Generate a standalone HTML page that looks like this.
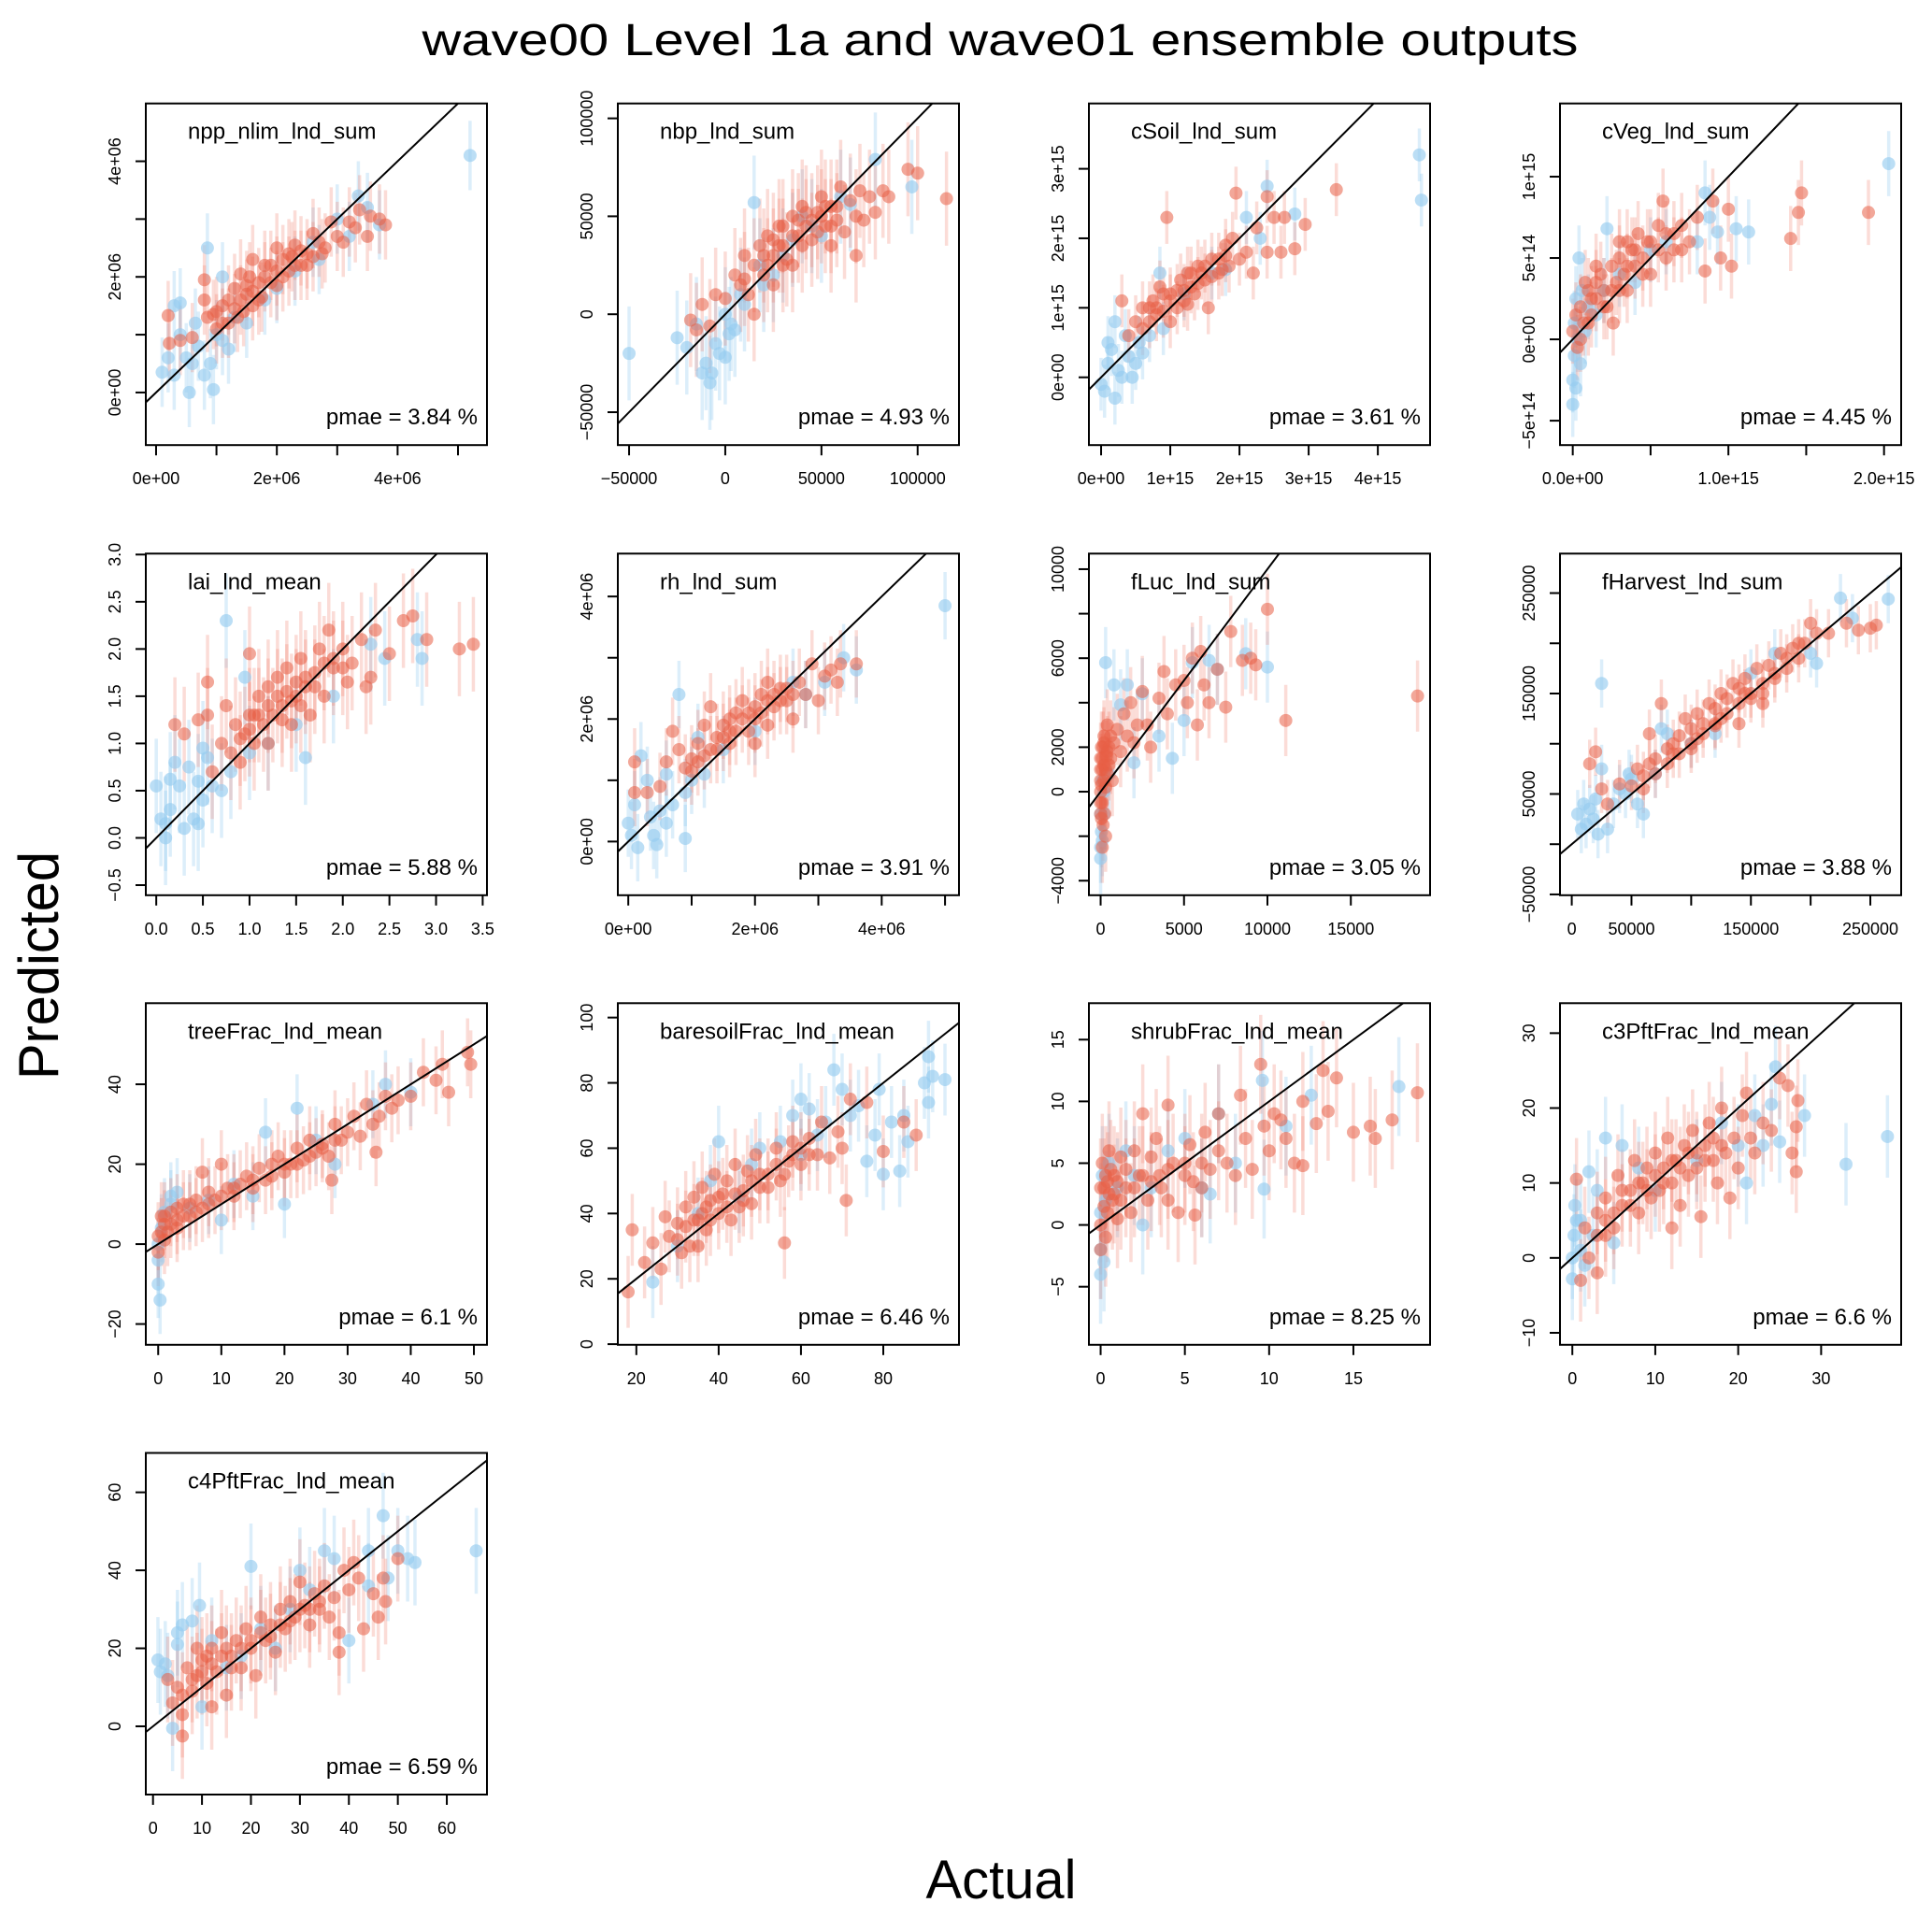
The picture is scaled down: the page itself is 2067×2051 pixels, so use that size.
<!DOCTYPE html>
<html><head><meta charset="utf-8"><title>wave00 Level 1a and wave01 ensemble outputs</title>
<style>html,body{margin:0;padding:0;background:#fff}svg{display:block}text{font-family:"Liberation Sans",Arial,sans-serif;fill:#000}</style>
</head><body>
<svg id="chart" xmlns="http://www.w3.org/2000/svg" width="2067" height="2051" viewBox="0 0 2067 2051">
<rect x="0" y="0" width="2067" height="2051" fill="#fff"/>
<text x="1070" y="59" font-size="48" text-anchor="middle" textLength="1237" lengthAdjust="spacingAndGlyphs">wave00 Level 1a and wave01 ensemble outputs</text>
<text transform="translate(62,1033) rotate(-90)" font-size="60" text-anchor="middle" textLength="244" lengthAdjust="spacingAndGlyphs">Predicted</text>
<text x="1071" y="2031" font-size="58" text-anchor="middle" textLength="161" lengthAdjust="spacingAndGlyphs">Actual</text>
</svg>
<script>
// ---- data (actual, predicted) per panel; units noted in tick labels ----
const nppRed = [[0.2,1.33],[0.22,0.85],[0.4,0.9],[0.6,0.95],[0.8,1.6],[0.8,1.95],[0.85,1.3],[0.95,1.35],[1.1,1.5],[1.2,1.2],[1.3,1.8],[1.4,2.05],[1.5,1.7],[1.6,2.3],[1.7,1.9],[1.8,2.0],[1.9,2.2],[2.0,1.85],[2.1,2.3],[2.2,2.1],[2.3,2.55],[2.4,2.2],[2.5,2.4],[2.6,2.35],[2.7,2.6],[2.8,2.5],[2.9,2.95],[3.0,2.7],[3.1,2.6],[3.3,2.85],[3.37,3.16],[3.5,2.7],[3.55,3.05],[3.7,3.0],[3.8,2.9],[1.6,1.5],[2.0,2.5],[1.2,1.6],[2.6,2.75],[3.2,2.95],[1.45,1.4],[1.75,1.65],[2.25,2.35],[1.0,1.1]];
const nppRedCore = [[1.0,1.4],[1.1,1.2],[1.3,1.45],[1.4,1.6],[1.5,1.85],[1.6,1.75],[1.7,1.6],[1.8,2.2],[1.9,1.9],[2.0,2.1],[2.1,2.0],[2.2,2.4],[2.3,2.2],[2.4,2.45],[2.5,2.2],[1.35,1.3],[1.55,2.0],[2.75,2.4]];
const nppBlue = [[0.1,0.35],[0.2,0.6],[0.3,1.5],[0.4,1.55],[0.3,0.3],[0.5,0.6],[0.55,0.0],[0.6,0.5],[0.7,0.8],[0.8,0.3],[0.85,2.5],[0.9,0.5],[1.0,1.0],[0.95,0.05],[1.1,0.9],[1.1,2.0],[1.2,0.75],[1.3,1.3],[1.5,1.2],[1.8,1.6],[2.0,1.8],[2.3,2.1],[2.6,2.6],[2.7,2.3],[3.2,2.7],[3.35,3.4],[3.5,3.2],[3.7,2.9],[3.0,3.0],[5.2,4.1],[0.4,1.0],[0.65,1.2]];
const nbpRed = [[-18,-3],[-15,-8],[-12,5],[-8,-6],[-5,10],[0,8],[5,20],[8,15],[10,30],[15,25],[18,35],[20,20],[22,40],[25,30],[28,45],[30,35],[32,28],[35,50],[38,40],[40,55],[42,45],[45,38],[48,52],[50,60],[52,45],[55,55],[58,48],[60,65],[62,42],[65,58],[68,50],[70,63],[72,48],[75,60],[78,52],[82,63],[85,60],[95,74],[100,72],[115,59],[68,30],[55,35],[15,0],[35,25],[25,15]];
const nbpRedCore = [[20,30],[25,38],[30,45],[30,25],[35,40],[38,48],[40,35],[42,52],[45,48],[48,42],[50,50],[52,55],[55,45],[58,55],[22,25],[28,35],[10,18],[12,10]];
const nbpBlue = [[-50,-20],[-25,-12],[-20,-17],[-15,-5],[-12,-30],[-10,-25],[-8,-35],[-5,-15],[-3,-20],[0,-22],[0,0],[3,-5],[5,-8],[8,10],[10,5],[15,57],[18,25],[20,15],[25,20],[30,30],[35,38],[40,50],[45,45],[50,40],[60,60],[65,56],[78,79],[97,65],[-7,-30],[2,-10]];
const csoilRed = [[0.3,1.1],[0.4,0.6],[0.5,0.8],[0.6,0.7],[0.7,1.0],[0.8,0.9],[0.9,1.2],[0.95,2.3],[1.0,1.1],[1.1,1.0],[1.15,1.4],[1.2,1.25],[1.3,1.5],[1.35,1.2],[1.4,1.6],[1.5,1.4],[1.55,1.0],[1.6,1.7],[1.7,1.5],[1.8,1.9],[1.85,1.6],[1.9,2.0],[1.95,2.65],[2.0,1.7],[2.1,1.8],[2.2,1.5],[2.25,2.15],[2.4,2.6],[2.4,1.8],[2.5,2.3],[2.6,1.8],[2.65,2.3],[2.8,1.85],[2.95,2.2],[3.4,2.7],[1.0,0.8],[0.6,1.0],[1.25,1.05],[0.85,1.3]];
const csoilRedCore = [[0.7,0.8],[0.8,1.0],[0.9,0.95],[1.0,1.2],[1.1,1.25],[1.2,1.1],[1.3,1.3],[1.4,1.35],[1.45,1.5],[1.5,1.6],[1.6,1.45],[1.7,1.7],[1.75,1.55],[1.8,1.75],[0.75,1.1],[1.25,1.5]];
const csoilBlue = [[0.0,-0.1],[0.05,-0.2],[0.1,0.2],[0.15,0.4],[0.1,0.5],[0.2,-0.3],[0.25,0.1],[0.3,0.0],[0.35,0.6],[0.4,0.3],[0.5,0.2],[0.55,0.5],[0.6,0.35],[0.7,0.6],[0.9,0.7],[0.85,1.5],[1.2,1.2],[1.6,1.5],[1.8,1.55],[2.1,2.3],[2.3,2.0],[2.4,2.75],[2.8,2.35],[4.6,3.2],[4.63,2.55],[0.2,0.8],[0.45,0.0]];
const cvegRed = [[0.0,0.05],[0.02,0.15],[0.03,-0.05],[0.05,0.2],[0.07,0.1],[0.1,0.3],[0.12,0.15],[0.15,0.25],[0.18,0.4],[0.2,0.3],[0.22,0.2],[0.25,0.45],[0.28,0.35],[0.3,0.5],[0.33,0.4],[0.35,0.3],[0.38,0.55],[0.4,0.45],[0.42,0.65],[0.45,0.5],[0.48,0.6],[0.5,0.4],[0.55,0.7],[0.58,0.85],[0.6,0.5],[0.65,0.65],[0.7,0.7],[0.75,0.6],[0.8,0.75],[0.85,0.42],[0.9,0.85],[0.95,0.5],[1.0,0.8],[1.02,0.45],[1.4,0.62],[1.45,0.78],[1.47,0.9],[1.9,0.78],[0.35,0.6],[0.15,0.45],[0.08,0.35],[0.26,0.1]];
const cvegRedCore = [[0.1,0.1],[0.15,0.35],[0.2,0.2],[0.25,0.3],[0.3,0.3],[0.3,0.6],[0.35,0.45],[0.4,0.55],[0.45,0.4],[0.5,0.6],[0.55,0.55],[0.6,0.65],[0.65,0.55],[0.7,0.55],[0.05,0.0],[0.12,0.25]];
const cvegBlue = [[0.0,-0.25],[0.0,-0.4],[0.01,-0.1],[0.01,0.1],[0.02,-0.3],[0.02,0.25],[0.03,0.0],[0.04,0.5],[0.05,-0.15],[0.06,0.3],[0.08,0.05],[0.1,0.2],[0.15,0.15],[0.2,0.3],[0.3,0.4],[0.4,0.35],[0.6,0.6],[0.8,0.6],[0.85,0.9],[0.88,0.75],[0.93,0.66],[1.05,0.68],[1.13,0.66],[2.03,1.08],[0.22,0.68],[0.5,0.55]];
const laiRed = [[0.2,1.2],[0.3,1.1],[0.45,1.25],[0.55,1.3],[0.6,0.7],[0.7,1.0],[0.75,1.4],[0.8,0.9],[0.85,1.2],[0.9,0.8],[0.95,1.1],[1.0,1.3],[1.0,1.95],[1.05,1.0],[1.1,1.5],[1.15,1.2],[1.2,1.6],[1.25,1.3],[1.3,1.7],[1.35,1.4],[1.4,1.8],[1.45,1.2],[1.5,1.5],[1.55,1.9],[1.6,1.6],[1.65,1.3],[1.7,1.75],[1.75,2.0],[1.8,1.5],[1.85,2.2],[1.9,1.8],[2.0,2.0],[2.05,1.65],[2.1,1.85],[2.2,2.1],[2.3,1.7],[2.35,2.2],[2.5,1.95],[2.65,2.3],[2.75,2.35],[2.9,2.1],[3.25,2.0],[3.4,2.05],[0.55,1.65],[2.25,1.6]];
const laiRedCore = [[0.9,1.05],[1.0,1.15],[1.1,1.3],[1.2,1.4],[1.3,1.5],[1.4,1.55],[1.5,1.65],[1.6,1.7],[1.7,1.6],[1.8,1.85],[1.9,1.9],[1.2,1.0],[1.35,1.25],[1.45,1.45],[1.55,1.4],[1.05,1.3],[2.0,1.8]];
const laiBlue = [[0.0,0.55],[0.05,0.2],[0.1,0.15],[0.15,0.3],[0.15,0.62],[0.2,0.8],[0.25,0.55],[0.3,0.1],[0.35,0.75],[0.4,0.2],[0.45,0.15],[0.45,0.6],[0.5,0.95],[0.5,0.4],[0.55,0.85],[0.6,0.55],[0.7,0.5],[0.75,2.3],[0.8,0.7],[0.95,1.7],[1.0,0.9],[1.2,1.0],[1.5,1.2],[1.6,0.85],[1.9,1.5],[2.3,2.05],[2.45,1.9],[2.8,2.1],[2.85,1.9],[0.1,0.0]];
const rhRed = [[0.1,0.8],[0.1,1.3],[0.3,0.8],[0.5,0.9],[0.6,1.3],[0.7,1.8],[0.8,1.5],[0.9,1.2],[1.0,1.35],[1.1,1.6],[1.2,1.4],[1.3,2.2],[1.4,1.7],[1.5,1.9],[1.6,1.6],[1.7,2.1],[1.8,2.3],[1.9,1.8],[2.0,2.0],[2.1,2.4],[2.2,1.9],[2.3,2.2],[2.4,2.5],[2.5,2.3],[2.6,2.0],[2.7,2.6],[2.8,2.4],[2.9,2.9],[3.0,2.3],[3.1,2.7],[3.2,2.8],[3.3,2.6],[3.35,2.9],[3.6,2.9],[1.2,1.9],[2.2,2.6],[1.6,2.0],[2.0,1.6]];
const rhRedCore = [[1.3,1.5],[1.4,1.5],[1.5,1.7],[1.6,1.8],[1.7,1.8],[1.8,2.0],[1.9,2.1],[2.0,2.2],[2.1,2.1],[2.2,2.3],[2.3,2.4],[2.4,2.3],[2.5,2.5],[2.6,2.4],[1.1,1.3],[1.0,1.15]];
const rhBlue = [[0.0,0.3],[0.05,0.1],[0.1,0.6],[0.15,-0.1],[0.2,1.4],[0.3,1.0],[0.35,0.4],[0.4,0.1],[0.45,-0.05],[0.5,0.5],[0.6,0.3],[0.7,0.6],[0.8,2.4],[0.9,0.8],[0.9,0.05],[1.0,1.0],[1.1,1.7],[1.2,1.1],[1.5,1.5],[2.0,1.8],[2.6,2.6],[2.8,2.4],[3.1,2.6],[3.4,3.0],[3.6,2.8],[5.0,3.85],[0.6,1.1]];
const flucRed = [[0,0],[0,1],[0,-1],[0.05,2],[0.1,-0.5],[0.1,1.5],[0.2,0.5],[0.2,2.5],[0.3,1],[0.4,3],[0.5,2],[0.6,1.5],[0.8,2.2],[1.0,2.8],[1.2,1.8],[1.4,3.5],[1.6,2.5],[1.8,4.0],[2.0,2.2],[2.2,3.0],[2.5,4.5],[2.8,3.0],[3.0,2.0],[3.5,4.2],[3.8,5.4],[4.0,3.5],[4.5,4.8],[5.0,5.0],[5.2,4.0],[5.5,6.0],[5.8,3.0],[6.0,6.3],[6.2,4.8],[6.5,4.0],[7.0,5.5],[7.5,3.8],[7.8,7.2],[8.5,5.9],[9.0,6.0],[9.3,5.7],[10.0,8.2],[11.1,3.2],[19.0,4.3],[0.3,-2],[0.15,-1.5],[0.7,0.5],[0.4,1.8]];
const flucRedCore = [[0,0.5],[0,1.5],[0,-0.5],[0.05,0.3],[0.1,1],[0.15,2],[0.2,1.2],[0.25,-1],[0.3,0.2],[0.35,1.6],[0.4,0.8],[0.5,1.2],[0.6,2.5],[0.1,-2.5],[0.05,-1.2],[0.2,2.2]];
const flucBlue = [[0,-2.5],[0,-3],[0.05,-1.8],[0.1,-2.2],[0.2,-1],[0.2,0],[0.3,5.8],[0.5,0.8],[0.8,4.8],[1.2,3.9],[1.6,4.8],[2.0,1.3],[2.5,4.4],[3.5,2.5],[4.3,1.5],[5.0,3.2],[5.5,5.8],[6.5,5.9],[7.0,5.5],[8.7,6.2],[10.0,5.6],[0.0,-1],[0.1,0.5]];
const fharvRed = [[15,80],[20,92],[25,55],[30,40],[40,60],[50,58],[55,75],[60,68],[65,110],[70,85],[75,140],[80,95],[85,100],[90,108],[95,125],[100,115],[105,130],[110,120],[115,140],[120,135],[125,150],[130,145],[135,160],[140,155],[145,165],[150,150],[155,175],[160,160],[165,178],[170,170],[175,190],[180,185],[185,195],[190,200],[195,200],[200,220],[205,210],[215,210],[230,220],[240,213],[250,215],[255,218],[140,120],[100,95],[120,118],[160,140]];
const fharvRedCore = [[60,55],[70,70],[80,80],[90,90],[100,100],[110,110],[120,120],[130,130],[140,140],[150,145],[160,150],[170,165],[180,175],[190,185],[65,80],[85,90],[105,105],[125,125],[145,150]];
const fharvBlue = [[5,30],[8,15],[10,40],[12,20],[15,35],[18,25],[20,45],[22,10],[25,75],[25,160],[30,15],[35,40],[40,55],[45,50],[50,65],[55,40],[60,30],[70,70],[75,115],[80,110],[100,100],[120,110],[150,170],[170,190],[200,190],[205,180],[225,245],[235,225],[265,244],[48,70]];
const treeRed = [[0,2],[0,-2],[0.5,7],[1,5],[1.5,3],[2,8],[3,6],[4,10],[5,7],[6,11],[7,9],[8,13],[9,11],[10,20],[11,14],[12,12],[13,15],[14,17],[15,14],[16,19],[17,16],[18,20],[19,22],[20,18],[21,20],[22,24],[23,21],[24,26],[25,23],[26,25],[27,22],[28,30],[29,26],[30,28],[31,32],[32,27],[33,35],[34,30],[35,32],[36,37],[37,34],[38,36],[40,37],[42,43],[44,41],[46,38],[49,48],[49.5,45],[27.5,16],[34.5,23],[45,45],[7,18]];
const treeRedCore = [[0.5,3],[1,7],[2,5],[3,9],[4,7],[5,10],[6,8],[8,10],[10,12],[12,14],[15,16],[18,17],[20,20],[22,20],[24,22],[26,24],[28,26],[1,1],[3,4]];
const treeBlue = [[0,-10],[0,-4],[0,0],[0.3,-14],[0.5,4],[1,8],[2,10],[3,13],[5,9],[8,11],[10,6],[12,15],[15,12],[17,28],[20,10],[22,34],[25,26],[28,20],[34,35],[36,40],[40,38],[2,12]];
const bareRed = [[18,16],[19,35],[22,25],[24,31],[26,23],[27,39],[28,33],[30,37],[31,28],[32,42],[33,30],[34,45],[35,38],[36,48],[37,35],[38,44],[39,52],[40,40],[41,46],[42,50],[43,38],[44,55],[45,42],[46,47],[47,53],[48,43],[49,58],[50,48],[52,52],[54,60],[55,50],[56,31],[57,56],[58,62],[60,55],[62,63],[64,58],[65,68],[67,57],[69,65],[70,60],[71,44],[72,75],[80,59],[85,68],[88,64],[76,74],[30,32],[35,30]];
const bareRedCore = [[34,38],[36,40],[38,38],[40,45],[42,42],[44,46],[46,44],[48,50],[50,52],[52,48],[54,55],[56,52],[58,58],[60,60],[62,58],[32,36],[37,42]];
const bareBlue = [[24,19],[30,30],[35,40],[38,50],[40,62],[45,45],[48,55],[50,60],[55,62],[58,70],[60,75],[62,72],[64,64],[66,68],[68,84],[70,78],[72,70],[74,73],[76,56],[78,64],[79,78],[80,52],[82,68],[84,53],[85,70],[86,62],[90,80],[91,74],[92,82],[95,81],[91,88],[60,58]];
const shrubRed = [[0,0],[0,3],[0,-2],[0.1,5],[0.2,1.5],[0.3,-1],[0.4,3.5],[0.5,6],[0.7,2],[0.8,4],[1,0.5],[1.2,5.5],[1.5,3],[1.8,1],[2,6],[2.3,4],[2.5,9],[2.8,2],[3,5.5],[3.3,7],[3.6,3],[4,9.7],[4.3,5],[4.6,1],[5,4],[5.3,6.5],[5.6,0.8],[6,3],[6.2,7.5],[6.5,4.5],[7,9],[7.5,5],[8,4],[8.3,10.5],[8.6,7],[9,4.5],[9.5,13],[9.7,8],[10,6],[10.3,9],[10.7,8.5],[11,7],[11.5,5],[12,10],[12,4.8],[12.8,8.2],[13.2,12.5],[13.5,9.2],[14,11.9],[15,7.5],[16,8],[16.3,7],[17.3,8.5],[18.8,10.7],[4,2],[7,6]];
const shrubRedCore = [[0.2,3],[0.3,4],[0.4,1],[0.5,2.5],[0.6,4.5],[0.8,2.5],[1,3.5],[1.2,2],[1.5,4.5],[2,3],[2.5,4],[3,3.5],[3.5,4],[4,4.5],[5,5],[5.5,3.5],[6,5]];
const shrubBlue = [[0,-2],[0,-4],[0,1],[0.1,4],[0.2,-3],[0.3,2],[0.5,5],[1,3],[1.5,6],[2,4],[3,3],[4,6],[5,7],[6,3],[6.5,2.5],[7,9],[8,5],[9.7,2.9],[9.6,11.7],[12.5,10.5],[11,8],[17.7,11.2],[2.5,0]];
const c3Red = [[0.5,10.5],[1,-3],[1.5,4],[2,0],[3,-2],[3,6],[4,8],[5,4],[5.5,11],[6,7],[7,9],[7.5,13],[8,6],[8.5,10],[9,12],[9.5,8],[10,14],[10.5,9],[11,12],[11.5,16],[12,10],[12.5,13],[13,7],[13.5,15],[14,11],[14.5,17],[15,12],[15.5,5.5],[16,15],[16.5,18],[17,13],[17.5,10],[18,20],[18.5,14],[19,8],[19.5,16],[20,12],[20.5,19],[21,22],[21.5,16],[22,14],[23,18],[24,17],[25,24],[26,23],[26.5,14],[27,11.5],[27.2,21],[27,17.5],[4,3],[12,4]];
const c3RedCore = [[5,6],[6,9],[7,7],[8,10],[9,9],[10,11],[11,10],[12,13],[13,12],[14,14],[15,14],[16,13],[17,16],[18,15],[3,3],[4,5]];
const c3Blue = [[0,0],[0,-2.8],[0.2,3],[0.3,7],[0.5,5],[1,1],[1.5,-1],[2,11.5],[2.5,3],[3,9],[4,16],[5,2],[6,15],[8,12],[10,9],[15,13],[18,18],[20,15],[21,10],[22,19],[23,15],[24,20.5],[24.5,25.5],[25,15.5],[28,19],[33,12.5],[38,16.2],[1,5]];
const c4Red = [[3,12],[4,6],[5,10],[6,3],[6,-2.5],[7,15],[8,9],[9,13],[10,17],[11,11],[12,20],[13,14],[14,24],[15,8],[16,18],[17,22],[18,15],[19,25],[20,20],[21,13],[22,28],[23,22],[24,26],[25,19],[26,30],[27,25],[28,32],[29,28],[30,37],[31,31],[32,26],[33,34],[34,30],[35,36],[36,28],[37,33],[38,24],[39,40],[40,35],[41,42],[42,38],[43,25],[45,34],[46,28],[47,38],[47.5,32],[50,43],[9,20],[12,5],[38,19]];
const c4RedCore = [[8,12],[10,14],[12,16],[14,18],[15,20],[16,15],[18,20],[20,22],[22,24],[24,23],[26,26],[28,27],[30,30],[32,30],[34,32],[6,8],[11,18]];
const c4Blue = [[1,17],[1.5,14],[2.5,16],[3,13],[4,-0.5],[5,24],[5,21],[6,26],[8,27],[9.5,31],[10,5],[12,22],[15,15],[18,18],[20,41],[22,25],[25,20],[28,30],[32,35],[35,45],[37,43],[40,22],[44,45],[47,54],[48,38],[50,45],[52,43],[53.5,42],[66,45],[30,40],[44,36]];

const M = "\u2212";
const panels = [
 {id:"npp",title:"npp_nlim_lnd_sum",pmae:"pmae = 3.84 %",col:0,row:0,xlim:[-0.17,5.48],ylim:[-0.91,5.0],xticks:[0,1,2,3,4,5],xlabels:["0e+00","","2e+06","","4e+06",""],yticks:[0,1,2,3,4],ylabels:["0e+00","","2e+06","","4e+06"],red:nppRed.concat(nppRedCore),blue:nppBlue,err:0.6},
 {id:"nbp",title:"nbp_lnd_sum",pmae:"pmae = 4.93 %",col:1,row:0,xlim:[-55.85,121.5],ylim:[-66.8,107.6],xticks:[-50,0,50,100],xlabels:[M+"50000","0","50000","100000"],yticks:[-50,0,50,100],ylabels:[M+"50000","0","50000","100000"],red:nbpRed.concat(nbpRedCore),blue:nbpBlue,err:24},
 {id:"csoil",title:"cSoil_lnd_sum",pmae:"pmae = 3.61 %",col:2,row:0,xlim:[-0.176,4.755],ylim:[-0.975,3.94],xticks:[0,1,2,3,4],xlabels:["0e+00","1e+15","2e+15","3e+15","4e+15"],yticks:[0,1,2,3],ylabels:["0e+00","1e+15","2e+15","3e+15"],red:csoilRed.concat(csoilRedCore),blue:csoilBlue,err:0.38},
 {id:"cveg",title:"cVeg_lnd_sum",pmae:"pmae = 4.45 %",col:3,row:0,xlim:[-0.082,2.11],ylim:[-0.65,1.45],xticks:[0,0.5,1,1.5,2],xlabels:["0.0e+00","","1.0e+15","","2.0e+15"],yticks:[-0.5,0,0.5,1],ylabels:[M+"5e+14","0e+00","5e+14","1e+15"],red:cvegRed.concat(cvegRedCore),blue:cvegBlue,err:0.2},
 {id:"lai",title:"lai_lnd_mean",pmae:"pmae = 5.88 %",col:0,row:1,xlim:[-0.112,3.546],ylim:[-0.607,3.01],xticks:[0,0.5,1,1.5,2,2.5,3,3.5],xlabels:["0.0","0.5","1.0","1.5","2.0","2.5","3.0","3.5"],yticks:[-0.5,0,0.5,1,1.5,2,2.5,3],ylabels:[M+"0.5","0.0","0.5","1.0","1.5","2.0","2.5","3.0"],red:laiRed.concat(laiRedCore),blue:laiBlue,err:0.5},
 {id:"rh",title:"rh_lnd_sum",pmae:"pmae = 3.91 %",col:1,row:1,xlim:[-0.165,5.22],ylim:[-0.876,4.70],xticks:[0,1,2,3,4,5],xlabels:["0e+00","","2e+06","","4e+06",""],yticks:[0,1,2,3,4],ylabels:["0e+00","","2e+06","","4e+06"],red:rhRed.concat(rhRedCore),blue:rhBlue,err:0.55},
 {id:"fluc",title:"fLuc_lnd_sum",pmae:"pmae = 3.05 %",col:2,row:1,xlim:[-0.702,19.75],ylim:[-4.653,10.7],xticks:[0,5,10,15],xlabels:["0","5000","10000","15000"],yticks:[-4,-2,0,2,4,6,8,10],ylabels:[M+"4000","","0","2000","","6000","","10000"],red:flucRed.concat(flucRedCore),blue:flucBlue,err:1.6},
 {id:"fharv",title:"fHarvest_lnd_sum",pmae:"pmae = 3.88 %",col:3,row:1,xlim:[-9.85,275.8],ylim:[-50.8,289.3],xticks:[0,50,100,150,200,250],xlabels:["0","50000","","150000","","250000"],yticks:[-50,0,50,100,150,200,250],ylabels:[M+"50000","","50000","","150000","","250000"],red:fharvRed.concat(fharvRedCore),blue:fharvBlue,err:24},
 {id:"tree",title:"treeFrac_lnd_mean",pmae:"pmae = 6.1 %",col:0,row:2,xlim:[-1.96,52.07],ylim:[-25.2,60.3],xticks:[0,10,20,30,40,50],xlabels:["0","10","20","30","40","50"],yticks:[-20,0,20,40],ylabels:[M+"20","0","20","40"],red:treeRed.concat(treeRedCore),blue:treeBlue,err:8.5},
 {id:"bare",title:"baresoilFrac_lnd_mean",pmae:"pmae = 6.46 %",col:1,row:2,xlim:[15.5,98.4],ylim:[-0.2,104.4],xticks:[20,40,60,80],xlabels:["20","40","60","80"],yticks:[0,20,40,60,80,100],ylabels:["0","20","40","60","80","100"],red:bareRed.concat(bareRedCore),blue:bareBlue,err:11},
 {id:"shrub",title:"shrubFrac_lnd_mean",pmae:"pmae = 8.25 %",col:2,row:2,xlim:[-0.695,19.55],ylim:[-9.7,17.95],xticks:[0,5,10,15],xlabels:["0","5","10","15"],yticks:[-5,0,5,10,15],ylabels:[M+"5","0","5","10","15"],red:shrubRed.concat(shrubRedCore),blue:shrubBlue,err:4},
 {id:"c3",title:"c3PftFrac_lnd_mean",pmae:"pmae = 6.6 %",col:3,row:2,xlim:[-1.49,39.65],ylim:[-11.6,34.0],xticks:[0,10,20,30],xlabels:["0","10","20","30"],yticks:[-10,0,10,20,30],ylabels:[M+"10","0","10","20","30"],red:c3Red.concat(c3RedCore),blue:c3Blue,err:5.5},
 {id:"c4",title:"c4PftFrac_lnd_mean",pmae:"pmae = 6.59 %",col:0,row:3,xlim:[-1.47,68.2],ylim:[-17.5,70.1],xticks:[0,10,20,30,40,50,60],xlabels:["0","10","20","30","40","50","60"],yticks:[0,20,40,60],ylabels:["0","20","40","60"],red:c4Red.concat(c4RedCore),blue:c4Blue,err:11}
];

const colLeft=[156,661,1165,1669], rowTop=[110.7,592.3,1073.3,1554.5], PW=365, PH=365.5;
const NS="http://www.w3.org/2000/svg";
const svg=document.getElementById("chart");
function mk(tag,attrs,parent){const e=document.createElementNS(NS,tag);for(const k in attrs)e.setAttribute(k,attrs[k]);parent.appendChild(e);return e;}
function sx(p,v){return p.x0+(v-p.xlim[0])/(p.xlim[1]-p.xlim[0])*PW;}
function sy(p,v){return p.y0+PH-(v-p.ylim[0])/(p.ylim[1]-p.ylim[0])*PH;}

panels.forEach(p=>{
  p.x0=colLeft[p.col]; p.y0=rowTop[p.row];
  const g=mk("g",{},svg);
  
  
  const cp=mk("clipPath",{id:"clip-"+p.id},g);
  mk("rect",{x:p.x0,y:p.y0,width:PW,height:PH},cp);
  const plot=mk("g",{"clip-path":"url(#clip-"+p.id+")"},g);
  
  
  [["blue","rgba(140,200,238,0.3)"],["red","rgba(240,120,100,0.26)"]].forEach(([s,c])=>{
    p[s].forEach(d=>{
      const l=mk("line",{x1:sx(p,d[0]),x2:sx(p,d[0]),y1:sy(p,d[1]-p.err),y2:sy(p,d[1]+p.err),stroke:c,"stroke-width":3.5},plot);
      
      
    });
  });
  [["blue","rgba(150,205,240,0.65)"],["red","rgba(232,95,70,0.55)"]].forEach(([s,c])=>{
    p[s].forEach(d=>{
      const ci=mk("circle",{cx:sx(p,d[0]),cy:sy(p,d[1]),r:7,fill:c},plot);
      
      
    });
  });
  const lo=Math.min(p.xlim[0],p.ylim[0]), hi=Math.max(p.xlim[1],p.ylim[1]);
  const ln=mk("line",{x1:sx(p,lo),y1:sy(p,lo),x2:sx(p,hi),y2:sy(p,hi),stroke:"#000","stroke-width":2},plot);
  
  
  const bx=mk("rect",{x:p.x0,y:p.y0,width:PW,height:PH,fill:"none",stroke:"#000","stroke-width":2},g);
  
  
  const yb=p.y0+PH;
  p.xticks.forEach((t,i)=>{
    const x=sx(p,t);
    const tk=mk("line",{x1:x,x2:x,y1:yb,y2:yb+11,stroke:"#000","stroke-width":2},g);
    
    
    if(p.xlabels[i]){
      const tx=mk("text",{x:x,y:yb+42,"font-size":18,"text-anchor":"middle"},g);
      tx.textContent=p.xlabels[i];
      
      
    }
  });
  p.yticks.forEach((t,i)=>{
    const y=sy(p,t);
    const tk=mk("line",{x1:p.x0-11,x2:p.x0,y1:y,y2:y,stroke:"#000","stroke-width":2},g);
    
    
    if(p.ylabels[i]){
      const tx=mk("text",{transform:"translate("+(p.x0-27)+","+y+") rotate(-90)","font-size":18,"text-anchor":"middle"},g);
      tx.textContent=p.ylabels[i];
      
      
    }
  });
  const ti=mk("text",{x:p.x0+45,y:p.y0+38,"font-size":24},g);
  ti.textContent=p.title;
  
  
  const pm=mk("text",{x:p.x0+PW-10,y:yb-22,"font-size":24,"text-anchor":"end"},g);
  pm.textContent=p.pmae;
  
  
});
</script>
</body></html>
